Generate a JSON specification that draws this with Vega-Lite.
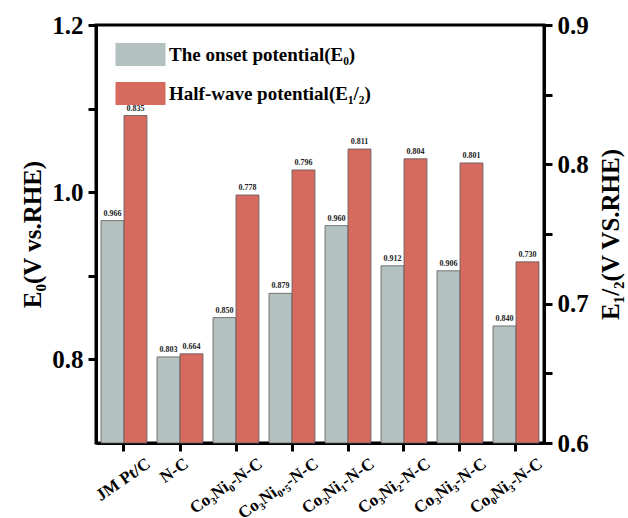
{
  "$schema": "https://vega.github.io/schema/vega-lite/v6.json",
  "width": 448,
  "height": 418,
  "autosize": {"type": "none"},
  "padding": {"left": 96, "top": 25, "right": 84, "bottom": 75},
  "background": "white",
  "config": {
    "font": "Liberation Serif",
    "view": {"stroke": "black", "strokeWidth": 3},
    "axis": {
      "grid": false,
      "domainColor": "black",
      "domainWidth": 3,
      "tickColor": "black",
      "tickWidth": 3,
      "tickSize": 8,
      "labelFont": "Liberation Serif",
      "labelFontWeight": "bold",
      "labelColor": "black",
      "titleFont": "Liberation Serif",
      "titleFontWeight": "bold",
      "titleColor": "black"
    }
  },
  "data": {
    "values": [
      {"sample": "JM Pt/C", "series": "The onset potential(E₀)", "E": 0.966},
      {"sample": "N-C", "series": "The onset potential(E₀)", "E": 0.803},
      {"sample": "Co₃Ni₀-N-C", "series": "The onset potential(E₀)", "E": 0.850},
      {"sample": "Co₃Ni₀.₅-N-C", "series": "The onset potential(E₀)", "E": 0.879},
      {"sample": "Co₃Ni₁-N-C", "series": "The onset potential(E₀)", "E": 0.960},
      {"sample": "Co₃Ni₂-N-C", "series": "The onset potential(E₀)", "E": 0.912},
      {"sample": "Co₃Ni₃-N-C", "series": "The onset potential(E₀)", "E": 0.906},
      {"sample": "Co₀Ni₃-N-C", "series": "The onset potential(E₀)", "E": 0.840},
      {"sample": "JM Pt/C", "series": "Half-wave potential(E₁/₂)", "E": 0.835},
      {"sample": "N-C", "series": "Half-wave potential(E₁/₂)", "E": 0.664},
      {"sample": "Co₃Ni₀-N-C", "series": "Half-wave potential(E₁/₂)", "E": 0.778},
      {"sample": "Co₃Ni₀.₅-N-C", "series": "Half-wave potential(E₁/₂)", "E": 0.796},
      {"sample": "Co₃Ni₁-N-C", "series": "Half-wave potential(E₁/₂)", "E": 0.811},
      {"sample": "Co₃Ni₂-N-C", "series": "Half-wave potential(E₁/₂)", "E": 0.804},
      {"sample": "Co₃Ni₃-N-C", "series": "Half-wave potential(E₁/₂)", "E": 0.801},
      {"sample": "Co₀Ni₃-N-C", "series": "Half-wave potential(E₁/₂)", "E": 0.730}
    ]
  },
  "encoding": {
    "x": {
      "field": "sample",
      "type": "nominal",
      "sort": null,
      "scale": {"paddingInner": 0.18, "paddingOuter": 0.09},
      "axis": {
        "title": null,
        "labelAngle": -35,
        "labelAlign": "right",
        "labelBaseline": "top",
        "labelFontSize": 17,
        "labelPadding": 4,
        "labelOffset": {"condition": {"test": "datum.value === 'N-C'", "value": 2}, "value": 20}
      }
    },
    "xOffset": {
      "field": "series",
      "type": "nominal",
      "sort": null,
      "scale": {"domain": ["The onset potential(E₀)", "Half-wave potential(E₁/₂)"], "paddingInner": 0, "paddingOuter": 0}
    }
  },
  "layer": [
    {
      "transform": [{"filter": "datum.series === 'The onset potential(E₀)'"}],
      "encoding": {
        "y": {
          "field": "E",
          "type": "quantitative",
          "scale": {"domain": [0.7, 1.2], "zero": false, "nice": false},
          "axis": {
            "orient": "left",
            "title": "E₀(V vs.RHE)",
            "titleFontSize": 25,
            "titlePadding": 6,
            "labelFontSize": 25,
            "labelPadding": 5,
            "values": [0.8, 0.9, 1.0, 1.1, 1.2],
            "labelExpr": "round(datum.value*10) % 2 == 0 ? format(datum.value, '.1f') : ''"
          }
        }
      },
      "layer": [
        {
          "mark": {"type": "bar", "stroke": "#5a5a5a", "strokeWidth": 0.8},
          "encoding": {
            "y2": {"datum": 0.7},
            "color": {
              "field": "series",
              "type": "nominal",
              "scale": {"domain": ["The onset potential(E₀)", "Half-wave potential(E₁/₂)"], "range": ["#b3c1c0", "#d76a5e"]},
              "legend": {
                "title": null,
                "orient": "none",
                "legendX": 19,
                "legendY": 4,
                "padding": 0,
                "symbolType": "M-1,-0.46H1V0.46H-1Z",
                "symbolSize": 2500,
                "symbolStrokeColor": "#777777",
                "symbolStrokeWidth": 0.8,
                "symbolOpacity": 1,
                "labelFont": "Liberation Serif",
                "labelFontWeight": "bold",
                "labelFontSize": 19,
                "labelColor": "black",
                "labelOffset": 3,
                "labelLimit": 400,
                "rowPadding": -13,
                "encode": {
                  "symbols": {"update": {"fill": {"signal": "datum.index === 0 ? '#878787' : '#d76a5e'"}}}
                }
              }
            }
          }
        },
        {
          "mark": {"type": "text", "baseline": "bottom", "dy": -3, "fontSize": 8, "fontWeight": "bold", "color": "#222222"},
          "encoding": {"text": {"field": "E", "type": "quantitative", "format": ".3f"}}
        }
      ]
    },
    {
      "transform": [{"filter": "datum.series === 'Half-wave potential(E₁/₂)'"}],
      "encoding": {
        "y": {
          "field": "E",
          "type": "quantitative",
          "scale": {"domain": [0.6, 0.9], "zero": false, "nice": false},
          "axis": {
            "orient": "right",
            "title": "E₁/₂(V VS.RHE)",
            "titleAngle": 270,
            "titleAlign": "center",
            "titleBaseline": "middle",
            "titleX": 66,
            "titleY": 209,
            "titleFontSize": 25,
            "labelFontSize": 25,
            "labelPadding": 5,
            "values": [0.6, 0.65, 0.7, 0.75, 0.8, 0.85, 0.9],
            "labelExpr": "round(datum.value*100) % 10 == 0 ? format(datum.value, '.1f') : ''"
          }
        }
      },
      "layer": [
        {
          "mark": {"type": "bar", "stroke": "#5a5a5a", "strokeWidth": 0.8},
          "encoding": {
            "y2": {"datum": 0.6},
            "color": {"field": "series", "type": "nominal"}
          }
        },
        {
          "mark": {"type": "text", "baseline": "bottom", "dy": -3, "fontSize": 8, "fontWeight": "bold", "color": "#222222"},
          "encoding": {"text": {"field": "E", "type": "quantitative", "format": ".3f"}}
        }
      ]
    }
  ],
  "resolve": {"scale": {"y": "independent"}}
}
